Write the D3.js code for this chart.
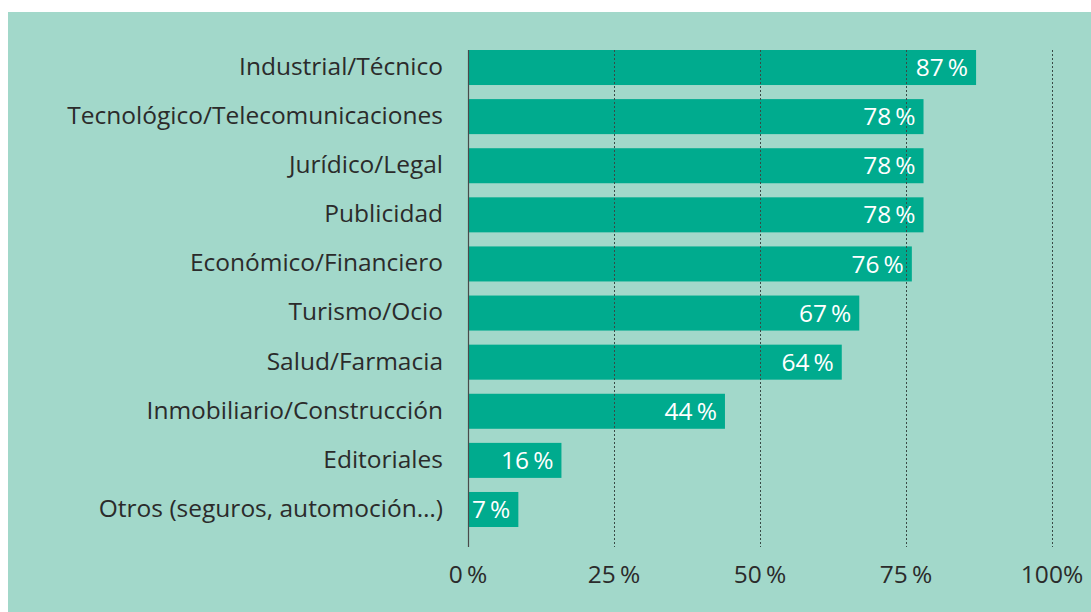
<!DOCTYPE html>
<html>
<head>
<meta charset="utf-8">
<script src="https://cdn.jsdelivr.net/npm/d3@7"></script>
<style>
  body { margin: 0; background: #ffffff; }
  svg { display: block; }
</style>
</head>
<body>
<div class="chart"></div>
<script>
var categories = ["Industrial/Técnico", "Tecnológico/Telecomunicaciones", "Jurídico/Legal",
                  "Publicidad", "Económico/Financiero", "Turismo/Ocio", "Salud/Farmacia",
                  "Inmobiliario/Construcción", "Editoriales", "Otros (seguros, automoción…)"];
var values = [87, 78, 78, 78, 76, 67, 64, 44, 16, 7];
var tickValues = [0, 25, 50, 75, 100];
var tickLabels = ["0\u2009%", "25\u2009%", "50\u2009%", "75\u2009%", "100%"];

var width = 1091;
var height = 612;
var fontFamily = "'Open Sans', 'Noto Sans', sans-serif";
var fontSize = 24.5;

var svg = d3.select(".chart").append("svg")
	.attr("width", width)
	.attr("height", height);

// teal panel
svg.append("rect")
	.attr("x", 8)
	.attr("y", 12)
	.attr("width", width - 8)
	.attr("height", height - 12)
	.attr("fill", "#a2d8ca");

var x = d3.scaleLinear()
	.domain([0, 100])
	.range([468, 1052]);

var y = d3.scaleBand()
	.domain(categories)
	.range([50, 527])
	.paddingInner(0.287)
	.paddingOuter(0);

var plotTop = 50;
var plotBottom = 547;

var barG = svg.append("g");
var gridG = svg.append("g");
var labelG = svg.append("g");

// value labels first, so the bars can be widened to fit them if needed
var valueLabels = labelG.selectAll("text")
	.data(values)
	.enter().append("text")
	.attr("y", function(d, i) { return y(categories[i]) + y.bandwidth() / 2; })
	.attr("dy", "0.35em")
	.attr("text-anchor", "end")
	.attr("font-family", fontFamily)
	.attr("font-size", fontSize)
	.attr("fill", "#ffffff")
	.text(function(d) { return d + "\u2009%"; });

var barEnds = [];
valueLabels.each(function(d, i) {
	var w = this.getComputedTextLength();
	barEnds[i] = Math.max(x(d), x(0) + w + 12);
});
valueLabels.attr("x", function(d, i) { return barEnds[i] - 8; });

// bars
barG.selectAll("rect")
	.data(values)
	.enter().append("rect")
	.attr("x", x(0))
	.attr("y", function(d, i) { return y(categories[i]); })
	.attr("width", function(d, i) { return barEnds[i] - x(0); })
	.attr("height", y.bandwidth())
	.attr("fill", "#00ab8e");

// dotted gridlines on top of the bars
gridG.selectAll("line")
	.data(tickValues.slice(1))
	.enter().append("line")
	.attr("x1", function(d) { return x(d) + 0.5; })
	.attr("x2", function(d) { return x(d) + 0.5; })
	.attr("y1", plotTop)
	.attr("y2", plotBottom)
	.attr("stroke", "#3a4a46")
	.attr("stroke-width", 1)
	.attr("stroke-dasharray", "2,2");

// zero axis line
gridG.append("line")
	.attr("x1", x(0) + 0.5)
	.attr("x2", x(0) + 0.5)
	.attr("y1", plotTop)
	.attr("y2", plotBottom)
	.attr("stroke", "#4a4a4a")
	.attr("stroke-width", 1.2);

// category labels
svg.append("g")
	.selectAll("text")
	.data(categories)
	.enter().append("text")
	.attr("x", 443)
	.attr("y", function(d) { return y(d) + y.bandwidth() / 2; })
	.attr("dy", "0.3em")
	.attr("text-anchor", "end")
	.attr("font-family", fontFamily)
	.attr("font-size", fontSize)
	.attr("fill", "#2b2b2b")
	.text(function(d) { return d; });

// tick labels
svg.append("g")
	.selectAll("text")
	.data(tickValues)
	.enter().append("text")
	.attr("x", function(d) { return x(d); })
	.attr("y", 583)
	.attr("text-anchor", "middle")
	.attr("font-family", fontFamily)
	.attr("font-size", fontSize)
	.attr("fill", "#2b2b2b")
	.text(function(d, i) { return tickLabels[i]; });
</script>
</body>
</html>
